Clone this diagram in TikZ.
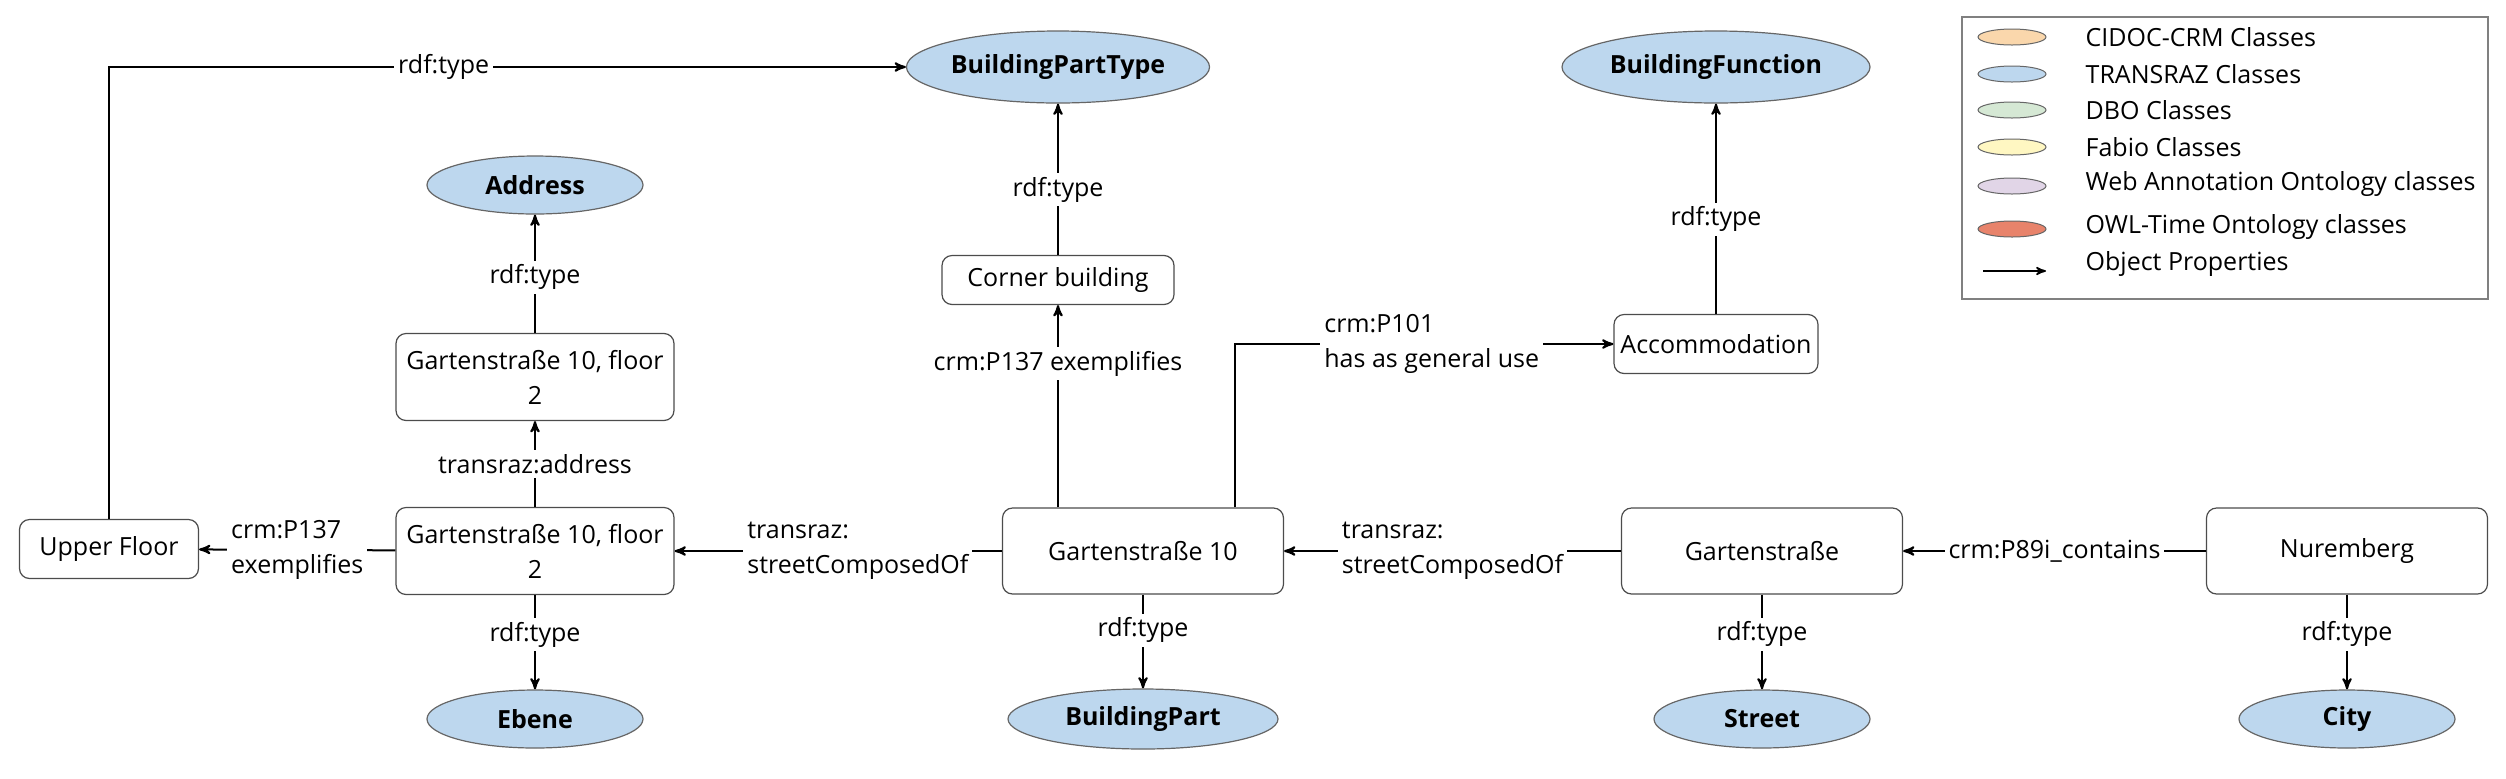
\documentclass[tikz,border=0pt]{standalone}
\usepackage{fontspec}
\setmainfont{Open Sans}
\usepackage{tikz}
\usetikzlibrary{arrows,shapes.geometric}
\definecolor{cidoc}{HTML}{FAD7AC}
\definecolor{transraz}{HTML}{BDD7EE}
\definecolor{dbo}{HTML}{D5E8D4}
\definecolor{fabio}{HTML}{FFF7C2}
\definecolor{webanno}{HTML}{E1D5E7}
\definecolor{owltime}{HTML}{E8836B}

\begin{document}
\begin{tikzpicture}[x=0.5pt,y=-0.5pt,->,>=stealth',line width=1pt,
  font=\fontsize{12.5}{17.5}\selectfont,
  inst/.style={rectangle,draw=black!70,line width=0.6pt,rounded corners=5pt,fill=white,align=center,minimum width=140.5pt,minimum height=29.5pt,inner sep=2pt},
  cls/.style={ellipse,draw=black!60,line width=0.6pt,fill=transraz,font=\fontsize{12.5}{17.5}\selectfont\bfseries,minimum width=108pt,minimum height=29pt,inner sep=0pt},
  lbl/.style={fill=white,inner sep=2pt,align=left},
  key/.style={ellipse,draw=black!60,line width=0.5pt,minimum width=34pt,minimum height=8pt,inner sep=0pt}]
%\tikzstyle{every node}=[draw=red]
\useasboundingbox (0,0) rectangle (2506,778);

\node[cls,minimum width=151pt,minimum height=36pt] (bpt) at (1058,67) {BuildingPartType};
\node[cls,minimum width=154pt,minimum height=36pt] (bfunc) at (1716,67) {BuildingFunction};
\node[cls] (addr) at (535,185) {Address};
\node[inst,minimum width=116pt,minimum height=24.5pt] (corner) at (1058,280) {Corner building};
\node[inst,minimum width=139pt,minimum height=43.5pt] (fl2up) at (535,377) {Gartenstraße 10, floor\\2};
\node[inst,minimum width=102pt] (accom) at (1716,344) {Accommodation};

\node[inst,minimum width=89.5pt] (upper) at (109,549) {Upper Floor};
\node[inst,minimum width=139pt,minimum height=43.5pt] (fl2) at (535,551) {Gartenstraße 10, floor\\2};
\node[inst,minimum height=43pt] (gs10) at (1143,551) {Gartenstraße 10};
\node[inst,minimum height=43pt] (gs) [right of=gs10,node distance=309.5pt] {Gartenstraße};
\node[inst,minimum height=43pt] (nbg) [right of=gs,node distance=292.5pt] {Nuremberg};

\node[cls] (ebene) [below of=fl2,node distance=84pt] {Ebene};
\node[cls,minimum width=135pt,minimum height=30pt] (bpart) [below of=gs10,node distance=84pt] {BuildingPart};
\node[cls] (street) [below of=gs,node distance=84pt] {Street};
\node[cls] (city) [below of=nbg,node distance=84pt] {City};

\draw (upper.north) |- (bpt.west) node[lbl,pos=0.71] {rdf:type};
\path (corner) edge node[lbl,pos=0.43] {rdf:type} (bpt);
\path (fl2up) edge node[lbl,pos=0.47] {rdf:type} (addr);
\path (fl2) edge node[lbl] {transraz:address} (fl2up);
\path (accom) edge node[lbl,pos=0.45] {rdf:type} (bfunc);
\draw (gs10.north -| corner) -- (corner) node[lbl,pos=0.71] {crm:P137 exemplifies};
\draw ([xshift=46pt]gs10.north) |- (accom.west) node[lbl,pos=0.76] {crm:P101\\has as general use};

\path (fl2) edge node[lbl] {crm:P137\\exemplifies} (upper);
\path (gs10) edge node[lbl,pos=0.44] {transraz:\\streetComposedOf} (fl2);
\path (gs) edge node[lbl] {transraz:\\streetComposedOf} (gs10);
\path (nbg) edge node[lbl] {crm:P89i\_contains} (gs);

\path (fl2) edge node[lbl,pos=0.42] {rdf:type} (ebene);
\path (gs10) edge node[lbl,pos=0.38] {rdf:type} (bpart);
\path (gs) edge node[lbl,pos=0.42] {rdf:type} (street);
\path (nbg) edge node[lbl,pos=0.42] {rdf:type} (city);

% legend
\draw[-,draw=black!50,line width=0.6pt] (1962,17) rectangle (2488,299);
\node[key,fill=cidoc] (k1) at (2012,37) {};
\node[anchor=west] (t1) at (2078,37) {CIDOC-CRM Classes};
\node[key,fill=transraz] (k2) at (2012,74) {};
\node[anchor=west] (t2) at (2078,74) {TRANSRAZ Classes};
\node[key,fill=dbo] (k3) at (2012,110) {};
\node[anchor=west] (t3) at (2078,110) {DBO Classes};
\node[key,fill=fabio] (k4) at (2012,147) {};
\node[anchor=west] (t4) at (2078,147) {Fabio Classes};
\node[key,fill=webanno] (k5) at (2012,186) {};
\node[anchor=west] (t5) at (2078,184) {Web Annotation Ontology classes};
\node[key,fill=owltime] (k6) at (2012,229) {};
\node[anchor=west] (t6) at (2078,227) {OWL-Time Ontology classes};
\coordinate (ka) at (1983,271);
\coordinate (kb) at (2046,271);
\draw[line width=0.8pt] (ka) -- (kb);
\node[anchor=west] (t7) at (2078,264) {Object Properties};
\end{tikzpicture}
\end{document}
